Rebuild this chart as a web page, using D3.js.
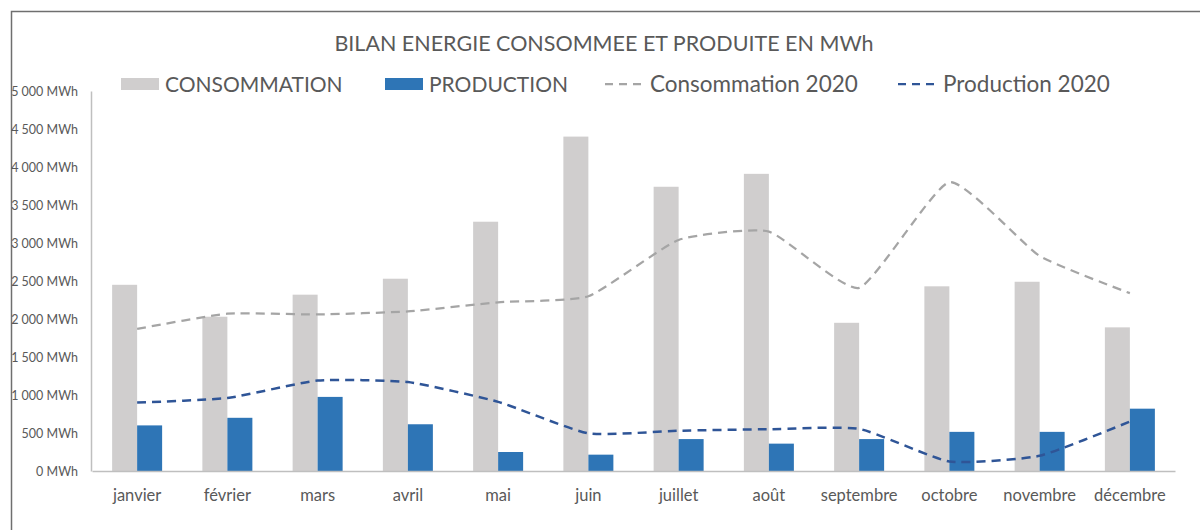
<!DOCTYPE html>
<html>
<head>
<meta charset="utf-8">
<script src="https://cdn.jsdelivr.net/npm/d3@7"></script>
<style>
  body { margin: 0; background: #fff; }
  svg text { font-family: Lato, "Open Sans", sans-serif; fill: #595959; }
</style>
</head>
<body>
<div id="chart"></div>
<script>
// Data (MWh)
const months = ["janvier", "février", "mars", "avril", "mai", "juin", "juillet", "août", "septembre", "octobre", "novembre", "décembre"];
const consommation = [2450, 2030, 2320, 2530, 3280, 4400, 3740, 3910, 1950, 2430, 2490, 1890];
const production = [600, 700, 975, 615, 250, 215, 420, 360, 420, 515, 515, 820];
const consommation2020 = [1870, 2070, 2060, 2100, 2220, 2300, 3040, 3150, 2410, 3800, 2830, 2340];
const production2020 = [900, 960, 1190, 1170, 910, 495, 530, 550, 555, 125, 200, 650];
const yTicks = [0, 500, 1000, 1500, 2000, 2500, 3000, 3500, 4000, 4500, 5000];

const w = 1200;
const h = 530;

const svg = d3.select("#chart")
  .append("svg")
  .attr("width", w)
  .attr("height", h)

// Frame (top and left edges only are visible)
svg.append("path")
  .attr("d", "M11.5,530 V11.5 H1200")
  .attr("fill", "none")
  .attr("stroke", "#6f6f6f")
  .attr("stroke-width", 1.5)

svg.append("text")
  .attr("x", 604)
  .attr("y", 51)
  .attr("text-anchor", "middle")
  .style("font-size", "21.5px")
  .text("BILAN ENERGIE CONSOMMEE ET PRODUITE EN MWh")

// Scales
const x = d3.scaleBand()
  .domain(months)
  .range([92, 1175])
  .paddingInner(0.446)
  .paddingOuter(0.223)

const sub = d3.scaleBand()
  .domain(["cons", "prod"])
  .range([0, x.bandwidth()])

const y = d3.scaleLinear()
  .domain([0, 5000])
  .range([471, 91])

// French style thousands separator
const fr = d3.formatLocale({ decimal: ",", thousands: " ", grouping: [3], currency: ["", " €"] });
const fmt = fr.format(",");

const yAxis = d3.axisLeft(y)
  .tickValues(yTicks)
  .tickSize(0)
  .tickPadding(13)
  .tickFormat(d => fmt(d) + " MWh")

const yG = svg.append("g")
  .attr("transform", "translate(91,0)")
  .call(yAxis)
yG.select(".domain").attr("stroke", "#bfbfbf").attr("stroke-width", 1.5)
yG.selectAll("text").style("font-size", "12.5px").attr("fill", "#595959")

// Bars
svg.selectAll("rect.cons")
  .data(consommation)
  .enter()
  .append("rect")
  .attr("class", "cons")
  .attr("x", (d, i) => x(months[i]) + sub("cons"))
  .attr("width", sub.bandwidth())
  .attr("y", d => y(d))
  .attr("height", d => y(0) - y(d))
  .attr("fill", "#d0cece")

svg.selectAll("rect.prod")
  .data(production)
  .enter()
  .append("rect")
  .attr("class", "prod")
  .attr("x", (d, i) => x(months[i]) + sub("prod"))
  .attr("width", sub.bandwidth())
  .attr("y", d => y(d))
  .attr("height", d => y(0) - y(d))
  .attr("fill", "#2e75b6")

const xAxis = d3.axisBottom(x)
  .tickSize(0)
  .tickPadding(18)

const xG = svg.append("g")
  .attr("transform", "translate(0,471)")
  .call(xAxis)
xG.select(".domain").attr("stroke", "#bfbfbf").attr("stroke-width", 1.5)
xG.selectAll("text").style("font-size", "16.5px").attr("fill", "#595959")

// Smoothed dashed lines (less overshoot than catmull-rom)
const line = d3.line()
  .x((d, i) => x(months[i]) + x.bandwidth() / 2)
  .y(d => y(d))
  .curve(d3.curveCardinal.tension(0.5))

svg.append("path")
  .datum(consommation2020)
  .attr("d", line)
  .attr("fill", "none")
  .attr("stroke", "#a5a5a5")
  .attr("stroke-width", 2.25)
  .attr("stroke-dasharray", "9,6")

svg.append("path")
  .datum(production2020)
  .attr("d", line)
  .attr("fill", "none")
  .attr("stroke", "#2f5597")
  .attr("stroke-width", 2.5)
  .attr("stroke-dasharray", "9,6")

// Legend
const legend = svg.append("g")

legend.append("rect").attr("x", 121).attr("y", 78).attr("width", 38).attr("height", 12).attr("fill", "#d0cece")
legend.append("text").attr("x", 165).attr("y", 92).style("font-size", "21px").text("CONSOMMATION")

legend.append("rect").attr("x", 385).attr("y", 78).attr("width", 38).attr("height", 12).attr("fill", "#2e75b6")
legend.append("text").attr("x", 429).attr("y", 92).style("font-size", "21px").text("PRODUCTION")

legend.append("line").attr("x1", 605).attr("x2", 645).attr("y1", 84).attr("y2", 84)
  .attr("stroke", "#a5a5a5").attr("stroke-width", 2.25).attr("stroke-dasharray", "8,6")
legend.append("text").attr("x", 650).attr("y", 92).style("font-size", "22.5px").text("Consommation 2020")

legend.append("line").attr("x1", 898).attr("x2", 938).attr("y1", 84).attr("y2", 84)
  .attr("stroke", "#2f5597").attr("stroke-width", 2.25).attr("stroke-dasharray", "8,6")
legend.append("text").attr("x", 943).attr("y", 92).style("font-size", "22.5px").text("Production 2020")
</script>
</body>
</html>
